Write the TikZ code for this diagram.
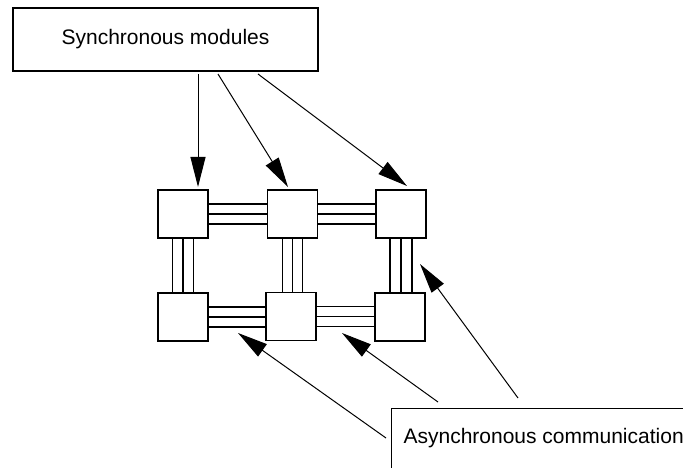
\documentclass[tikz,border=0pt]{standalone}
\usepackage{fontspec}
\setmainfont{Liberation Sans}
\usetikzlibrary{arrows.meta,calc}
\begin{document}
\begin{tikzpicture}[x=1pt,y=-1pt,line width=1.2pt,
  label box/.style={draw,rectangle,font=\fontsize{21}{25}\selectfont},
  module/.style={draw,rectangle,minimum width=50pt,minimum height=48pt,inner sep=0pt},
  pointer/.style={line width=1pt,-{Triangle[length=30pt,width=15pt]}},
  wire/.style={line width=1.1pt}]
\useasboundingbox (0,0) rectangle (683,468);
\clip (0,0) rectangle (683,468);

% synchronous module label
\node[label box,minimum width=305pt,minimum height=63pt] (sync) at (165.5,39.5) {Synchronous modules};

% grid of modules
\node[module] (A) at (183,214) {};
\node[module] (B) at (292.5,214) {};
\node[module] (C) at (401,214) {};
\node[module] (D) at (183,317) {};
\node[module] (E) at (291,316.5) {};
\node[module] (F) at (400,317) {};

% horizontal three-wire links
\foreach \u/\v in {A/B,B/C,D/E,E/F}
  \foreach \d in {10,0,-10}
    \draw[wire] ([yshift=\d pt]\u.east) -- ([yshift=\d pt]\u.east -| \v.west);

% vertical three-wire links
\foreach \d in {-10.5,0,10.5}
  \draw[wire] ([xshift=\d pt]A.south) -- ([xshift=\d pt]A.south |- D.north);
\foreach \d in {-10,0,10}
  \draw[wire] ([xshift=\d pt]B.south) -- ([xshift=\d pt]B.south |- E.north);
\foreach \d in {-11,0,11}
  \draw[wire] ([xshift=\d pt]C.south) -- ([xshift=\d pt]C.south |- F.north);

% asynchronous communication label (runs past the right and lower edges)
\node[label box,anchor=north west,minimum width=330pt,minimum height=90pt,
      text width=300pt,align=left,inner xsep=11pt,text depth=0pt] (async) at (391,408) {};
\node[font=\fontsize{21}{25}\selectfont,anchor=west,inner sep=0pt] (asynctext) at (403,438) {Asynchronous communication};

% arrows from the synchronous label to the modules
\coordinate (s1) at (198,74);
\coordinate (s2) at (218,74);
\coordinate (s3) at (258,74);
\coordinate (t1) at (198,187);
\coordinate (t2) at (288,187);
\coordinate (t3) at (407,186);
\draw[pointer] (s1) -- (t1);
\draw[pointer] (s2) -- (t2);
\draw[pointer] (s3) -- (t3);

% arrows from the asynchronous label to the links
\coordinate (a1) at (386,438);
\coordinate (a2) at (438,402);
\coordinate (a3) at (518,398);
\coordinate (l1) at (238,333);
\coordinate (l2) at (342,333);
\coordinate (l3) at (420,264);
\draw[pointer] (a1) -- (l1);
\draw[pointer] (a2) -- (l2);
\draw[pointer] (a3) -- (l3);
\end{tikzpicture}
\end{document}
